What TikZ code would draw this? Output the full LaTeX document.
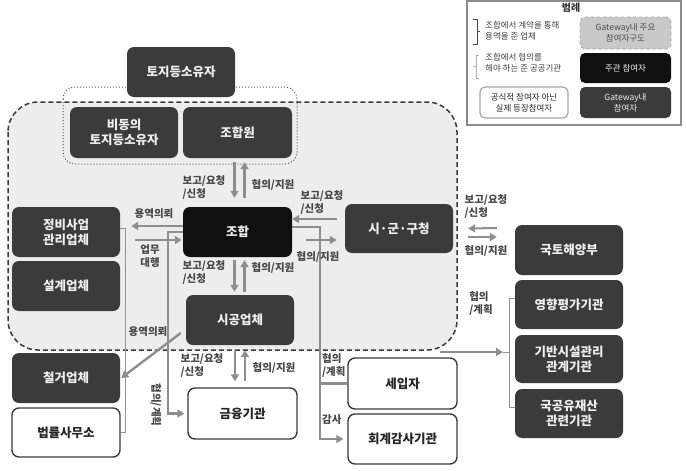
\documentclass[tikz,border=0pt]{standalone}
\usepackage{fontspec}
\setmainfont{Noto Sans CJK KR}
\usetikzlibrary{arrows.meta}
\definecolor{dk}{HTML}{3B3B3B}
\definecolor{blk}{HTML}{101010}
\definecolor{regc}{HTML}{EDEDED}
\definecolor{arrc}{HTML}{8E8E8E}
\definecolor{lgtc}{HTML}{C9C9C9}
\definecolor{txtw}{HTML}{EEEEEE}
\begin{document}
\begin{tikzpicture}[x=1pt,y=-1pt,
  box/.style={rounded corners=7pt, fill=dk, text=txtw, font=\bfseries\fontsize{12.5}{15}\selectfont, align=center, minimum width=108pt, minimum height=50pt, inner sep=0pt},
  blackbox/.style={box, fill=blk},
  whitebox/.style={box, fill=white, draw=dk, line width=1.4pt, text=black!85},
  flow/.style={draw=arrc, line width=2.4pt, -{Triangle[length=7pt,width=8pt]}},
  link/.style={draw=arrc, line width=2.2pt},
  thinline/.style={draw=gray!85, line width=0.9pt},
  lbl/.style={font=\bfseries\fontsize{10.5}{13}\selectfont, text=black!72, align=left, inner sep=0pt},
  lgtxt/.style={font=\fontsize{8.5}{11}\selectfont, text=black!75, align=left, inner sep=0pt, anchor=west},
  lgbox/.style={font=\fontsize{8.5}{11}\selectfont, rounded corners=5pt},
]
\useasboundingbox (0,0) rectangle (686,471);
\fill[white] (0,0) rectangle (686,471);

% Gateway region
\draw[draw=dk, line width=1.5pt, dash pattern=on 5pt off 3pt, fill=regc, rounded corners=30pt] (8,102) rectangle (457,350);
% dotted owners group
\draw[draw=black!65, dotted, line width=1pt, rounded corners=12pt] (63,87) rectangle (297,164);

% legend
\draw[draw=gray!90, line width=1.2pt] (467,1) rectangle (681,125);
\node[font=\bfseries\fontsize{10}{12}\selectfont, text=black!80, inner sep=0pt] (lgtitle) at (571,8) {범례};
\draw[draw=black!70, line width=1pt] (473,19) -- (477,19) -- (477,44) -- (473,44) (477,31.5) -- (480,31.5);
\node[lgtxt] (lgt1) at (485,31) {조합에서 계약을 통해\\용역을 준 업체};
\draw[draw=gray!60, line width=1pt] (479,55) -- (476,55) -- (476,78) -- (479,78) (476,66.5) -- (473,66.5);
\node[lgtxt] (lgt2) at (485,63) {조합에서 협의를\\해야 하는 준 공공기관};
\node[box, lgbox, fill=lgtc, draw=gray!70, dashed, line width=0.8pt, text=black!70, minimum width=91pt, minimum height=32pt] (lg1) at (625.5,33) {Gateway내 주요\\참여자구도};
\node[blackbox, lgbox, minimum width=91pt, minimum height=30pt] (lg2) at (625.5,68) {주관 참여자};
\node[whitebox, lgbox, draw=gray!70, line width=1.2pt, minimum width=88pt, minimum height=31pt] (lg3) at (524,102.5) {공식적 참여자 아닌\\실제 등장참여자};
\node[box, lgbox, minimum width=91pt, minimum height=31pt] (lg4) at (625.5,102.5) {Gateway내\\참여자};

% main nodes
\node[box] (tdso) at (181,72) {토지등소유자};
\node[box, minimum height=51pt] (bidong) at (124,132.5) {비동의\\토지등소유자};
\node[box, minimum width=109pt, minimum height=51pt] (johapwon) at (237.5,132.5) {조합원};
\node[blackbox, minimum width=109pt] (johap) at (237.5,232) {조합};
\node[box, minimum height=49pt] (sigungu) at (399,228.5) {시·군·구청};
\node[box] (jeongbi) at (66,232) {정비사업\\관리업체};
\node[box] (seolgye) at (66,286) {설계업체};
\node[box] (sigong) at (240,320) {시공업체};
\node[box] (cheolgeo) at (66,378) {철거업체};
\node[whitebox, minimum height=49pt] (law) at (66,432.5) {법률사무소};
\node[whitebox, minimum width=109pt, minimum height=51pt] (finance) at (242.5,413.5) {금융기관};
\node[whitebox, minimum width=109pt, minimum height=51pt] (tenant) at (402.5,383.5) {세입자};
\node[whitebox, minimum width=109pt] (audit) at (402.5,439) {회계감사기관};
\node[box] (molit) at (569,250) {국토해양부};
\node[box, minimum height=49pt] (impact) at (569,304.5) {영향평가기관};
\node[box, minimum height=48pt] (infra) at (569,359) {기반시설관리\\관계기관};
\node[box, minimum height=49pt] (state) at (569,413.5) {국공유재산\\관련기관};

% connectors
\draw[flow] ([xshift=-3pt,yshift=-4pt]johapwon.south) -- ([xshift=-3pt,yshift=9pt]johap.north);
\draw[flow] ([xshift=7pt,yshift=9pt]johap.north) -- ([xshift=7pt,yshift=-4pt]johapwon.south);
\draw[flow] ([xshift=-3pt,yshift=-3pt]johap.south) -- ([xshift=-5.5pt,yshift=3pt]sigong.north);
\draw[flow] ([xshift=4.5pt,yshift=3pt]sigong.north) -- ([xshift=7pt,yshift=-3pt]johap.south);
\draw[flow] ([xshift=-5pt,yshift=-5pt]sigong.south) -- ([xshift=-7.5pt,yshift=6pt]finance.north);
\draw[flow] ([xshift=2.5pt,yshift=6pt]finance.north) -- ([xshift=5pt,yshift=-5pt]sigong.south);

\draw[flow] ([xshift=-8pt,yshift=9.5pt]sigungu.west) -- ([yshift=13pt]johap.east);
\coordinate (sgLo) at (306,240);
\draw[flow] (sgLo) -- ([xshift=-8pt,yshift=-11.5pt]sigungu.west);

\coordinate (spine) at (320,300);
\draw[flow] ([yshift=5pt]johap.east) -| (spine) |- ([xshift=-4pt]audit.west);
\draw[link] (spine |- tenant.west) -- (tenant.west);

\draw[flow] ([yshift=6pt]johap.west) -- ([xshift=11pt,yshift=6pt]jeongbi.east);
\draw[flow, shorten >=1pt] ([xshift=15pt,yshift=-8pt]jeongbi.east) -- ([yshift=-8pt]johap.west);
\coordinate (lspine) at (168,300);
\draw[link, -{Triangle[length=7pt,width=8pt]}] (johap.west) -| (lspine) |- ([xshift=-3pt]finance.west);
\draw[flow] ([xshift=-5pt,yshift=-13pt]sigong.west) -- ([xshift=1pt]cheolgeo.east);

\draw[thinline] ([yshift=4pt]jeongbi.east) -- ++(5,0) |- (law.east);
\draw[thinline] ([yshift=6.5pt]impact.west) -- ++(-5,0) |- ([yshift=6.5pt]state.west);
\coordinate (gwOut) at (440,352);
\coordinate (brMid) at (503,352);
\draw[thinline] (brMid) -- ++(7,0);
\draw[flow] (gwOut) -- (brMid);

\draw[flow, line width=2pt] ([xshift=-18pt,yshift=22pt]molit.west) -- ([xshift=15pt]sigungu.east);
\draw[flow, line width=2pt] ([xshift=15pt,yshift=-8.5pt]sigungu.east) -- ([xshift=-18pt,yshift=13pt]molit.west);

% labels
\node[lbl] (l1) at (204,188) {보고/요청\\/신청};
\node[lbl] (l2) at (273,185) {협의/지원};
\node[lbl] (l3) at (204,273) {보고/요청\\/신청};
\node[lbl] (l4) at (273,268) {협의/지원};
\node[lbl] (l5) at (202,366) {보고/요청\\/신청};
\node[lbl] (l6) at (274,368) {협의/지원};
\node[lbl] (l7) at (322,203) {보고/요청\\/신청};
\node[lbl] (l8) at (318,257) {협의/지원};
\node[lbl] (l9) at (486,207) {보고/요청\\/신청};
\node[lbl] (l10) at (486,251) {협의/지원};
\node[lbl] (l11) at (481,303) {협의\\/계획};
\node[lbl] (l12) at (154,214) {용역의뢰};
\node[lbl, align=center] (l13) at (150,256) {업무\\대행};
\node[lbl] (l14) at (148,332) {용역의뢰};
\node[lbl, rotate=-90] (l15) at (156,405) {협의/계획};
\node[lbl, anchor=west] (l16) at (322,365) {협의\\/계획};
\node[lbl, anchor=west] (l17) at (322,420) {감사};
\end{tikzpicture}
\end{document}
